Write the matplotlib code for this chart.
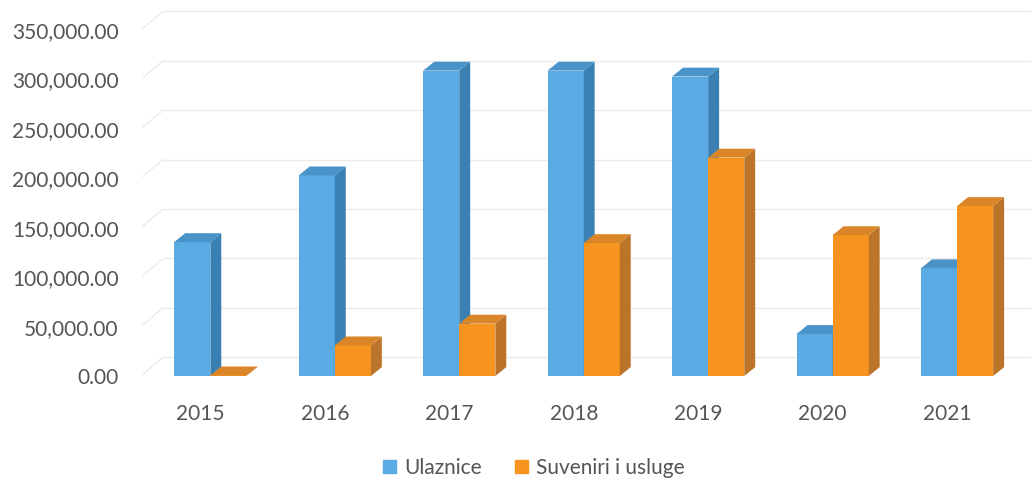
import matplotlib.pyplot as plt
from matplotlib.patches import Polygon, Patch
from matplotlib.ticker import FuncFormatter

years = ['2015', '2016', '2017', '2018', '2019', '2020', '2021']
ulaznice = [135500, 203000, 309000, 309000, 303000, 42500, 109000]
suveniri = [600, 31000, 53000, 134500, 221000, 142500, 172000]

BLUE = ('#5AABE4', '#3A80B2', '#4A93C8')
ORANGE = ('#F7941F', '#BC742A', '#D98528')


def money(v, pos):
	return '{:,.2f}'.format(v)


def bar3d(ax, x0, w, h, cols, dx, dy):
	front, side, top = cols
	ax.bar(x0, h, w, align='edge', color=front, zorder=3)
	ax.add_patch(Polygon([(x0 + w, 0), (x0 + w + dx, dy), (x0 + w + dx, h + dy), (x0 + w, h)],
		closed=True, facecolor=side, edgecolor='none', zorder=3))
	ax.add_patch(Polygon([(x0, h), (x0 + dx, h + dy), (x0 + w + dx, h + dy), (x0 + w, h)],
		closed=True, facecolor=top, edgecolor='none', zorder=3))


if __name__ == '__main__':
	plt.rcParams['font.family'] = ['Lato', 'DejaVu Sans']
	fig = plt.figure(figsize=(10.31, 4.83), dpi=100)
	ax = fig.add_axes([0.134, 0.2215, 0.845, 0.770])

	ax.set_xlim(-0.5, 6.5)
	ax.set_ylim(0, 376300)

	w = 0.29
	shift = 0.08
	dx, dy = 0.088, 9000
	gdx, gdy = 0.2, 19000

	# back wall grid + side wall slants
	for v in range(0, 350001, 50000):
		ax.plot([-0.5 + gdx, 6.7], [v + gdy, v + gdy], color='#ebebeb', lw=1.0, zorder=1, clip_on=False)
		ax.plot([-0.5 + 0.04, -0.5 + gdx], [v + 2000, v + gdy], color='#ebebeb', lw=1.0, zorder=1)

	for i in range(len(years)):
		bar3d(ax, i - w + shift, w, ulaznice[i], BLUE, dx, dy)
		bar3d(ax, i + shift, w, suveniri[i], ORANGE, dx, dy)

	ax.set_yticks(range(0, 350001, 50000))
	ax.yaxis.set_major_formatter(FuncFormatter(money))
	ax.set_xticks(range(len(years)))
	ax.set_xticklabels(years)
	ax.tick_params(axis='y', length=0, pad=14, labelsize=15, labelcolor='#555555')
	ax.tick_params(axis='x', length=0, pad=20, labelsize=15, labelcolor='#555555')
	for s in ax.spines.values():
		s.set_visible(False)

	handles = [Patch(color=BLUE[0], label='Ulaznice'), Patch(color=ORANGE[0], label='Suveniri i usluge')]
	fig.legend(handles=handles, loc='center', bbox_to_anchor=(0.518, 0.031), ncol=2, frameon=False,
		fontsize=15, handlelength=0.6, handleheight=0.6, handletextpad=0.4, columnspacing=1.6,
		labelcolor='#555555')

	plt.savefig('out.png', dpi=100)
